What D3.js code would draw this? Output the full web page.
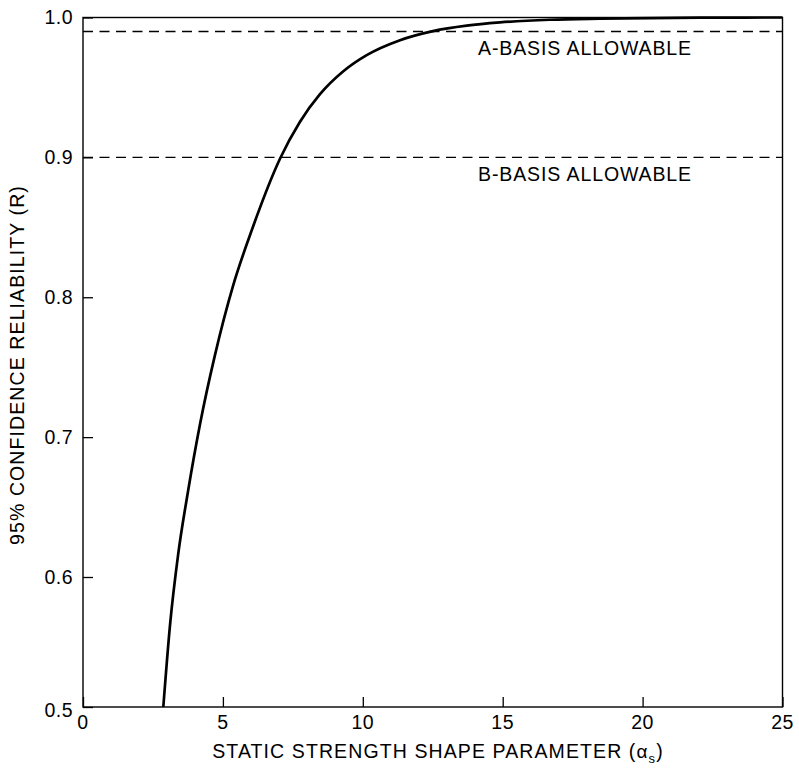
<!DOCTYPE html>
<html>
<head>
<meta charset="utf-8">
<script src="https://cdn.jsdelivr.net/npm/d3@7"></script>
<style>
  html, body { margin: 0; padding: 0; background: #fff; }
  text { font-family: "Liberation Sans", Arial, Helvetica, sans-serif; fill: #000; }
</style>
</head>
<body>
<svg id="chart" width="799" height="768"></svg>
<script>
// ---- data ----
const shapeParam  = [2.87, 3.11, 3.40, 3.76, 4.18, 4.72, 5.36, 6.04, 7.04, 7.756, 8.47, 9.304, 10.139, 11.33, 12.509, 13.713, 14.904, 16.691, 18.48, 22.05, 25.0];
const reliability = [0.500, 0.563, 0.616, 0.662, 0.709, 0.759, 0.808, 0.8484, 0.899, 0.9255, 0.9452, 0.9616, 0.9731, 0.9838, 0.9903, 0.9942, 0.9965, 0.9984, 0.9992, 0.9999, 1.0];
const xTicks = [0, 5, 10, 15, 20, 25];
const yTicks = [0.5, 0.6, 0.7, 0.8, 0.9, 1.0];
const allowables = [0.99, 0.90];
const allowableLabels = ["A-BASIS ALLOWABLE", "B-BASIS ALLOWABLE"];

const svg = d3.select("#chart");
const mLeft = 83, mRight = 782.5, mTop = 17.5, mBottom = 707;

const x = d3.scaleLinear().domain([0, 25]).range([mLeft, mRight]);
// axis is slightly compressed between 0.5 and 0.6 in the original
const y = d3.scaleLinear().domain([0.5, 0.6, 1.0]).range([mBottom, 577, mTop]);

// dashed allowable lines
svg.selectAll("line.allow").data(allowables).join("line")
  .attr("class", "allow")
  .attr("x1", mLeft).attr("x2", mRight)
  .attr("y1", d => y(d)).attr("y2", d => y(d))
  .attr("stroke", "#000").attr("stroke-width", 1.3)
  .attr("stroke-dasharray", "10,6.5");

svg.selectAll("text.allow").data(allowables).join("text")
  .attr("class", "allow")
  .attr("x", 585).attr("y", d => y(d) + 23.5)
  .attr("text-anchor", "middle")
  .attr("font-size", 19.5).attr("letter-spacing", 0.9)
  .text((d, i) => allowableLabels[i]);

// curve
const line = d3.line().x(d => x(d[0])).y(d => y(d[1])).curve(d3.curveMonotoneX);
svg.append("path")
  .datum(shapeParam.map((s, i) => [s, reliability[i]]))
  .attr("d", line)
  .attr("fill", "none").attr("stroke", "#000").attr("stroke-width", 2.7)
  .attr("stroke-linejoin", "round");

// axes (ticks inward)
const xAxis = svg.append("g").attr("transform", `translate(0,${mBottom})`)
  .call(d3.axisTop(x).tickValues(xTicks).tickSize(10).tickFormat(""));
const yAxis = svg.append("g").attr("transform", `translate(${mLeft},0)`)
  .call(d3.axisRight(y).tickValues(yTicks).tickSize(10).tickFormat(""));
[xAxis, yAxis].forEach(g => {
  g.select(".domain").remove();
  g.selectAll(".tick line").attr("stroke", "#000").attr("stroke-width", 1.3);
});

// frame
svg.append("rect")
  .attr("x", mLeft).attr("y", mTop)
  .attr("width", mRight - mLeft).attr("height", mBottom - mTop)
  .attr("fill", "none").attr("stroke", "#000").attr("stroke-width", 1.4);

// tick labels
svg.selectAll("text.xt").data(xTicks).join("text")
  .attr("class", "xt")
  .attr("x", d => x(d)).attr("y", 729)
  .attr("text-anchor", "middle")
  .attr("font-size", 19.5).attr("letter-spacing", 0.5)
  .text(d => d);

svg.selectAll("text.yt").data(yTicks).join("text")
  .attr("class", "yt")
  .attr("x", 73).attr("y", d => y(d) + (d === 0.5 ? 10 : 6.5))
  .attr("text-anchor", "end")
  .attr("font-size", 19.5).attr("letter-spacing", 0.5)
  .text(d => d3.format(".1f")(d));

// axis titles
const xt = svg.append("text")
  .attr("x", 438).attr("y", 758)
  .attr("text-anchor", "middle")
  .attr("font-size", 19.5).attr("letter-spacing", 1.1);
xt.append("tspan").text("STATIC STRENGTH SHAPE PARAMETER (");
xt.append("tspan").attr("font-size", 19).text("α");
xt.append("tspan").attr("font-size", 13).attr("dy", 5).text("s");
xt.append("tspan").attr("dy", -5).text(")");

svg.append("text")
  .attr("transform", "translate(24,365) rotate(-90)")
  .attr("text-anchor", "middle")
  .attr("font-size", 19.5).attr("letter-spacing", 1.1)
  .text("95% CONFIDENCE RELIABILITY (R)");
</script>
</body>
</html>
